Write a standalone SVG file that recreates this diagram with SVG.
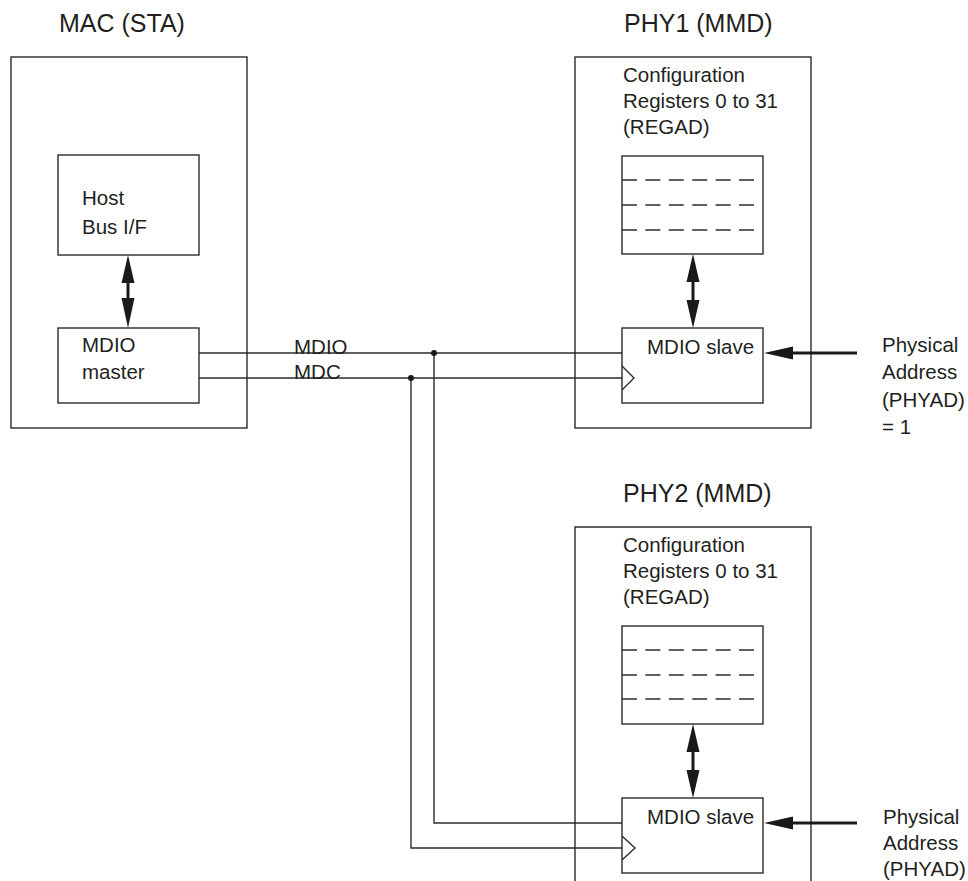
<svg xmlns="http://www.w3.org/2000/svg" width="968" height="881" viewBox="0 0 968 881">
<defs>
<style>
.box{fill:none;stroke:#2b2b2b;stroke-width:1.4}
.wire{fill:none;stroke:#2b2b2b;stroke-width:1.4}
.dash{fill:none;stroke:#2b2b2b;stroke-width:1.4;stroke-dasharray:15 8.4}
.thick{fill:none;stroke:#1a1a1a;stroke-width:3}
.head{fill:#1a1a1a;stroke:none}
.t{font-family:"Liberation Sans",Arial,sans-serif;font-size:20.5px;fill:#231f20}
.title{font-family:"Liberation Sans",Arial,sans-serif;font-size:25px;fill:#231f20}
.dot{fill:#1a1a1a}
</style>
</defs>
<rect width="968" height="881" fill="#ffffff"/>

<g id="mac">
<text class="title" x="59" y="32">MAC (STA)</text>
<rect class="box" x="11" y="57" width="236" height="371"/>
</g>
<g id="host">
<rect class="box" x="58" y="155" width="141" height="100"/>
<text class="t" x="82" y="205">Host</text>
<text class="t" x="82" y="234">Bus I/F</text>
</g>
<g id="master">
<rect class="box" x="58" y="328" width="141" height="75"/>
<text class="t" x="82" y="352">MDIO</text>
<text class="t" x="82" y="379">master</text>
</g>

<g id="phy1">
<text class="title" x="624" y="32">PHY1 (MMD)</text>
<rect class="box" x="575" y="57" width="236" height="371"/>
<text class="t" x="623" y="82">Configuration</text>
<text class="t" x="623" y="108">Registers 0 to 31</text>
<text class="t" x="623" y="134">(REGAD)</text>
</g>
<g id="regs1">
<rect class="box" x="622" y="156" width="141" height="98"/>
<line class="dash" x1="622" y1="180" x2="757" y2="180"/>
<line class="dash" x1="622" y1="205" x2="757" y2="205"/>
<line class="dash" x1="622" y1="230" x2="757" y2="230"/>
</g>
<g id="slave1">
<rect class="box" x="622" y="328" width="141" height="75"/>
<text class="t" x="647" y="354">MDIO slave</text>
<polyline class="wire" points="622,366 634,378 622,390"/>
</g>
<g id="phyad1">
<text class="t" x="882" y="352">Physical</text>
<text class="t" x="882" y="379">Address</text>
<text class="t" x="882" y="407">(PHYAD)</text>
<text class="t" x="882" y="434">= 1</text>
</g>

<g id="phy2">
<text class="title" x="623" y="502">PHY2 (MMD)</text>
<polyline class="box" points="575,881 575,527 811,527 811,881"/>
<text class="t" x="623" y="552">Configuration</text>
<text class="t" x="623" y="578">Registers 0 to 31</text>
<text class="t" x="623" y="604">(REGAD)</text>
</g>
<g id="regs2">
<rect class="box" x="622" y="626" width="141" height="98"/>
<line class="dash" x1="622" y1="650" x2="757" y2="650"/>
<line class="dash" x1="622" y1="675" x2="757" y2="675"/>
<line class="dash" x1="622" y1="699" x2="757" y2="699"/>
</g>
<g id="slave2">
<rect class="box" x="622" y="798" width="141" height="75"/>
<text class="t" x="647" y="824">MDIO slave</text>
<polyline class="wire" points="622,836 635,848 622,860"/>
</g>
<g id="phyad2">
<text class="t" x="883" y="824">Physical</text>
<text class="t" x="883" y="850">Address</text>
<text class="t" x="883" y="876">(PHYAD)</text>
</g>

<g id="connectors">
<line class="wire" x1="199" y1="353" x2="622" y2="353"/>
<line class="wire" x1="199" y1="378" x2="622" y2="378"/>
<polyline class="wire" points="434,353 434,823 622,823"/>
<polyline class="wire" points="411,378 411,848 622,848"/>
<circle class="dot" cx="434" cy="353" r="3"/>
<circle class="dot" cx="411" cy="378" r="3"/>
<text class="t" x="294" y="354">MDIO</text>
<text class="t" x="294" y="379">MDC</text>

<line class="thick" x1="128" y1="280" x2="128" y2="301"/>
<polygon class="head" points="128,255 121.5,283 134.5,283"/>
<polygon class="head" points="128,328 121.5,298 134.5,298"/>

<line class="thick" x1="693" y1="279" x2="693" y2="303"/>
<polygon class="head" points="693,254 686.5,282 699.5,282"/>
<polygon class="head" points="693,328 686.5,300 699.5,300"/>

<line class="thick" x1="693" y1="749" x2="693" y2="773"/>
<polygon class="head" points="693,724 686.5,752 699.5,752"/>
<polygon class="head" points="693,798 686.5,770 699.5,770"/>

<line class="thick" x1="790" y1="353" x2="857" y2="353"/>
<polygon class="head" points="764,353 793,346.5 793,359.5"/>
<line class="thick" x1="790" y1="823" x2="857" y2="823"/>
<polygon class="head" points="764,823 793,816.5 793,829.5"/>
</g>
</svg>
